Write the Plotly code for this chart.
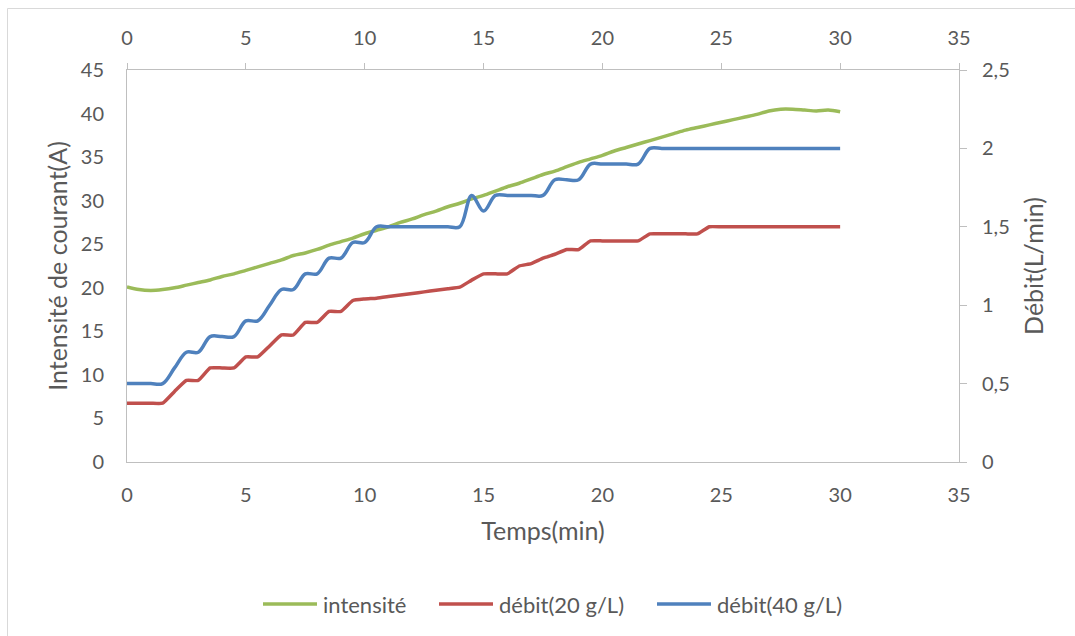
import plotly.graph_objects as go

# time in minutes (0.5 min step)
temps = [i * 0.5 for i in range(61)]

intensite = [20.1, 19.8, 19.7, 19.8, 20.0, 20.3, 20.6, 20.9, 21.3, 21.6,
             22.0, 22.4, 22.8, 23.2, 23.7, 24.0, 24.4, 24.9, 25.3, 25.7,
             26.2, 26.6, 27.0, 27.5, 27.9, 28.4, 28.8, 29.3, 29.7, 30.2,
             30.6, 31.1, 31.6, 32.0, 32.5, 33.0, 33.4, 33.9, 34.4, 34.8,
             35.2, 35.7, 36.1, 36.5, 36.9, 37.3, 37.7, 38.1, 38.4, 38.7,
             39.0, 39.3, 39.6, 39.9, 40.3, 40.5, 40.5, 40.4, 40.3, 40.4,
             40.2]

debit_20 = [0.375, 0.375, 0.375, 0.375, 0.45, 0.52, 0.52, 0.6, 0.6, 0.6,
            0.67, 0.67, 0.74, 0.81, 0.81, 0.89, 0.89, 0.96, 0.96, 1.03,
            1.04, 1.045, 1.055, 1.065, 1.075, 1.085, 1.095, 1.105, 1.115, 1.16,
            1.2, 1.2, 1.2, 1.25, 1.265, 1.3, 1.325, 1.355, 1.355, 1.41,
            1.41, 1.41, 1.41, 1.41, 1.455, 1.455, 1.455, 1.455, 1.455, 1.5,
            1.5, 1.5, 1.5, 1.5, 1.5, 1.5, 1.5, 1.5, 1.5, 1.5,
            1.5]

debit_40 = [0.5, 0.5, 0.5, 0.5, 0.6, 0.7, 0.7, 0.8, 0.8, 0.8,
            0.9, 0.9, 1.0, 1.1, 1.1, 1.2, 1.2, 1.3, 1.3, 1.4,
            1.4, 1.5, 1.5, 1.5, 1.5, 1.5, 1.5, 1.5, 1.5, 1.7,
            1.6, 1.7, 1.7, 1.7, 1.7, 1.7, 1.8, 1.8, 1.8, 1.9,
            1.9, 1.9, 1.9, 1.9, 2.0, 2.0, 2.0, 2.0, 2.0, 2.0,
            2.0, 2.0, 2.0, 2.0, 2.0, 2.0, 2.0, 2.0, 2.0, 2.0,
            2.0]

series_names = ["intensité", "débit(20 g/L)", "débit(40 g/L)"]
series_colors = ["#9bbb59", "#c0504d", "#4f81bd"]

FONT = "Lato, Carlito, Calibri, 'Open Sans', sans-serif"
TXT = "#595959"
AX = "#bfbfbf"
TICK_SIZE = 20
TITLE_SIZE = 25
LEG_SIZE = 22

fig = go.Figure()
fig.add_trace(go.Scatter(x=temps, y=intensite, name=series_names[0], mode="lines",
                         line=dict(color=series_colors[0], width=3.5, shape="spline", smoothing=0.8),
                         xaxis="x", yaxis="y", showlegend=False))
fig.add_trace(go.Scatter(x=temps, y=debit_20, name=series_names[1], mode="lines",
                         line=dict(color=series_colors[1], width=3.5, shape="spline", smoothing=0.4),
                         xaxis="x", yaxis="y2", showlegend=False))
fig.add_trace(go.Scatter(x=temps, y=debit_40, name=series_names[2], mode="lines",
                         line=dict(color=series_colors[2], width=3.5, shape="spline", smoothing=1.0),
                         xaxis="x", yaxis="y2", showlegend=False))
# helper trace so the top axis is drawn
fig.add_trace(go.Scatter(x=[0, 35], y=[None, None], xaxis="x2", yaxis="y",
                         showlegend=False, hoverinfo="skip", mode="lines"))

W, H = 1075, 636
L, R, T, B = 127, 116, 70, 174
pw, ph = W - L - R, H - T - B

def px(x):
    return (x - L) / pw

def py(y):
    return (H - B - y) / ph

# custom legend (Excel style: long line sample, wide spacing)
leg_y = 604
leg_starts = [263, 439, 657]
leg_len = 54
shapes = [dict(type="rect", xref="paper", yref="paper",
               x0=px(7.5), x1=px(1085), y0=py(645), y1=py(8.5),
               line=dict(color="#d9d9d9", width=1), fillcolor="rgba(0,0,0,0)", layer="below")]
annotations = []
for name, col, x0 in zip(series_names, series_colors, leg_starts):
    shapes.append(dict(type="line", xref="paper", yref="paper",
                       x0=px(x0), x1=px(x0 + leg_len), y0=py(leg_y), y1=py(leg_y),
                       line=dict(color=col, width=3.5)))
    annotations.append(dict(xref="paper", yref="paper", x=px(x0 + leg_len + 4), y=py(leg_y),
                            xanchor="left", yanchor="middle", showarrow=False, text=name,
                            font=dict(size=LEG_SIZE, color=TXT, family=FONT)))

fig.update_layout(
    width=W, height=H,
    margin=dict(l=L, r=R, t=T, b=B),
    paper_bgcolor="white", plot_bgcolor="white",
    separators=", ",
    showlegend=False,
    font=dict(family=FONT, size=TICK_SIZE, color=TXT),
    xaxis=dict(range=[0, 35], dtick=5, tick0=0, showgrid=False, zeroline=False,
               showline=True, linecolor=AX, linewidth=1, ticks="",
               ticklabelstandoff=15, tickfont=dict(size=TICK_SIZE),
               title=dict(text="Temps(min)", font=dict(size=TITLE_SIZE, color=TXT), standoff=17)),
    xaxis2=dict(range=[0, 35], dtick=5, tick0=0, overlaying="x", side="top",
                anchor="y", showgrid=False, zeroline=False,
                showline=True, linecolor=AX, linewidth=1, ticks="outside",
                ticklen=6, tickcolor=AX, ticklabelstandoff=10, tickfont=dict(size=TICK_SIZE)),
    yaxis=dict(range=[0, 45], dtick=5, tick0=0, showgrid=False, zeroline=False,
               showline=True, linecolor=AX, linewidth=1, ticks="",
               ticklabelstandoff=18, tickfont=dict(size=TICK_SIZE),
               title=dict(text="Intensité de courant(A)", font=dict(size=TITLE_SIZE, color=TXT), standoff=6)),
    yaxis2=dict(range=[0, 2.5], dtick=0.5, tick0=0, overlaying="y", side="right",
                anchor="x", showgrid=False, zeroline=False,
                showline=True, linecolor=AX, linewidth=1, ticks="outside",
                ticklen=7, tickcolor=AX, ticklabelstandoff=11, tickfont=dict(size=TICK_SIZE),
                title=dict(text="Débit(L/min)", font=dict(size=TITLE_SIZE, color=TXT), standoff=16)),
    shapes=shapes,
    annotations=annotations,
)

fig.write_html("out.html")
